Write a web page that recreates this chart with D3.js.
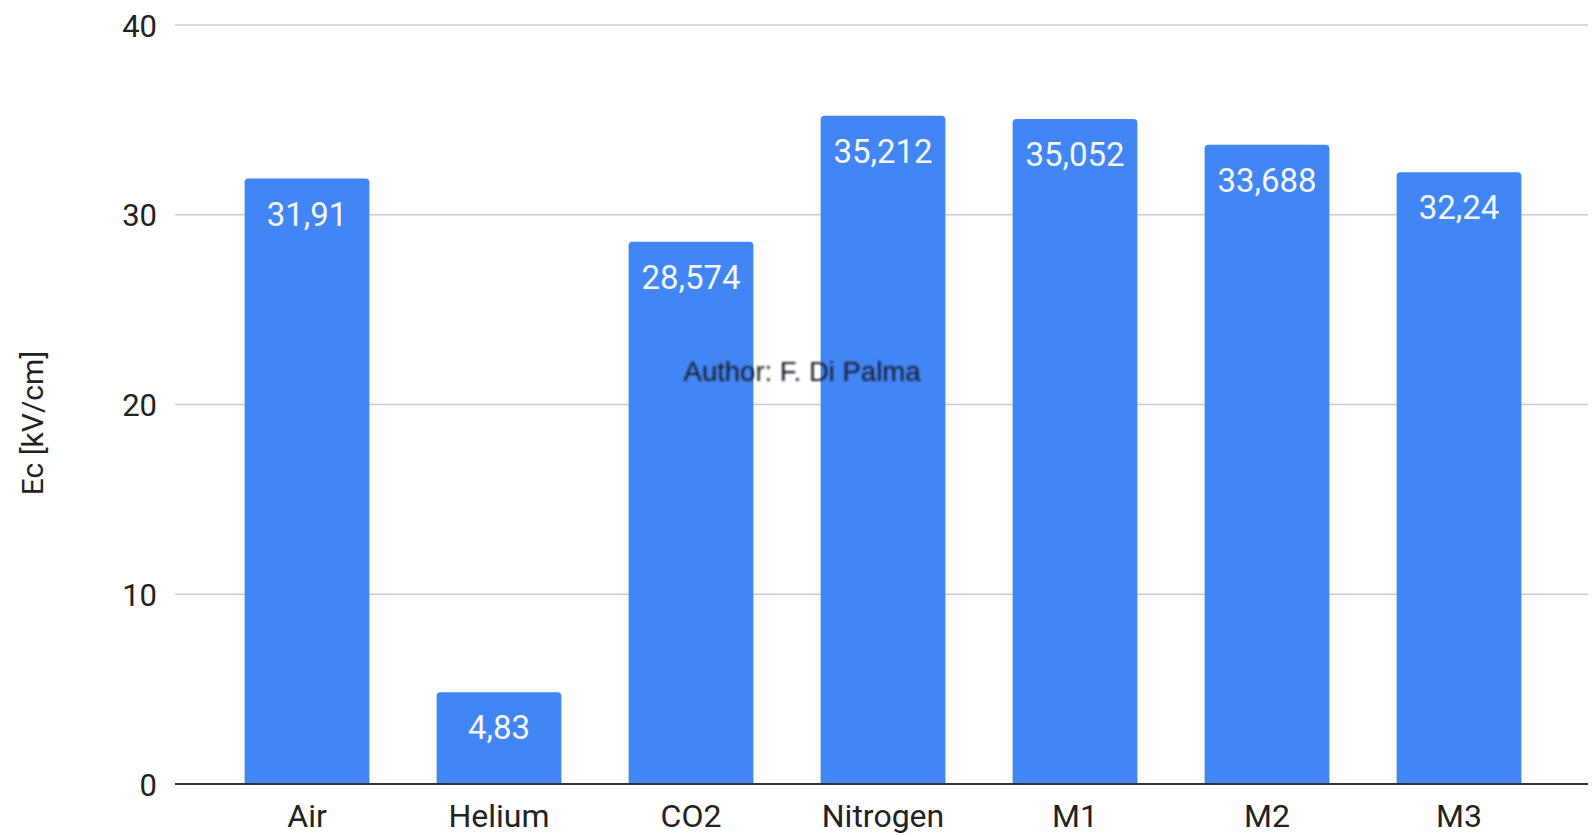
<!DOCTYPE html>
<html>
<head>
<meta charset="utf-8">
<script src="https://cdn.jsdelivr.net/npm/d3@7"></script>
<style>
  html, body { margin: 0; padding: 0; background: #fff; }
  svg { display: block; }
</style>
</head>
<body>
<svg id="chart" width="1593" height="836"></svg>
<script>
// Critical electric field per gas
const categories = ["Air", "Helium", "CO2", "Nitrogen", "M1", "M2", "M3"];
const values = [31.91, 4.83, 28.574, 35.212, 35.052, 33.688, 32.24];
const valueLabels = ["31,91", "4,83", "28,574", "35,212", "35,052", "33,688", "32,24"];
const yTicks = [0, 10, 20, 30, 40];
const yTitle = "Ec [kV/cm]";
const credit = "Author: F. Di Palma";

const svg = d3.select("#chart");
const plotLeft = 175, plotRight = 1588;

const x = d3.scaleBand()
  .domain(categories)
  .range([211, 1555])
  .paddingInner(0.35)
  .paddingOuter(0.175);

const y = d3.scaleLinear().domain([0, 40]).range([784, 25]);

// gridlines
svg.append("g")
  .selectAll("line")
  .data(yTicks.filter(d => d !== 0))
  .join("line")
  .attr("x1", plotLeft).attr("x2", plotRight)
  .attr("y1", d => y(d)).attr("y2", d => y(d))
  .attr("stroke", "#cccccc")
  .attr("stroke-width", 1.5);

// y tick labels
const yAxis = d3.axisLeft(y).tickValues(yTicks).tickSize(0).tickPadding(0);
const gy = svg.append("g").attr("transform", "translate(157,0)").call(yAxis);
gy.select(".domain").remove();
gy.selectAll("text")
  .attr("font-family", "Roboto, sans-serif")
  .attr("font-size", 31)
  .attr("fill", "#222")
  .attr("dy", "0.36em");

// bars with rounded top corners
const r = 4;
function barPath(d, i) {
  const x0 = x(categories[i]), w = x.bandwidth();
  const top = y(d), base = y(0);
  return `M${x0},${base} V${top + r} Q${x0},${top} ${x0 + r},${top} H${x0 + w - r} Q${x0 + w},${top} ${x0 + w},${top + r} V${base} Z`;
}
svg.append("g")
  .selectAll("path")
  .data(values)
  .join("path")
  .attr("d", barPath)
  .attr("fill", "#4285f4");

// value labels inside bars
svg.append("g")
  .selectAll("text")
  .data(values)
  .join("text")
  .attr("x", (d, i) => x(categories[i]) + x.bandwidth() / 2)
  .attr("y", d => y(d) + 47)
  .attr("text-anchor", "middle")
  .attr("font-family", "Roboto, sans-serif")
  .attr("font-size", 33)
  .attr("fill", "#f4f7fe")
  .text((d, i) => valueLabels[i]);

// baseline
svg.append("line")
  .attr("x1", plotLeft).attr("x2", plotRight)
  .attr("y1", y(0)).attr("y2", y(0))
  .attr("stroke", "#333")
  .attr("stroke-width", 2);

// x axis labels
const xAxis = d3.axisBottom(x).tickSize(0).tickPadding(0);
const gx = svg.append("g").attr("transform", `translate(0,${y(0)})`).call(xAxis);
gx.select(".domain").remove();
gx.selectAll("text")
  .attr("font-family", "Roboto, sans-serif")
  .attr("font-size", 32)
  .attr("fill", "#222")
  .attr("dy", 0)
  .attr("y", 43);

// y axis title
svg.append("text")
  .attr("transform", "translate(43,423) rotate(-90)")
  .attr("text-anchor", "middle")
  .attr("font-family", "Roboto, sans-serif")
  .attr("font-size", 30)
  .attr("fill", "#222")
  .text(yTitle);

// credit line
const defs = svg.append("defs");
defs.append("filter").attr("id", "soft")
  .append("feGaussianBlur").attr("stdDeviation", 0.8);
svg.append("text")
  .attr("x", 802)
  .attr("y", 381)
  .attr("text-anchor", "middle")
  .attr("font-family", "'Liberation Sans', Arial, sans-serif")
  .attr("font-size", 27.5)
  .attr("fill", "#1a1a2a")
  .attr("filter", "url(#soft)")
  .text(credit);
</script>
</body>
</html>
